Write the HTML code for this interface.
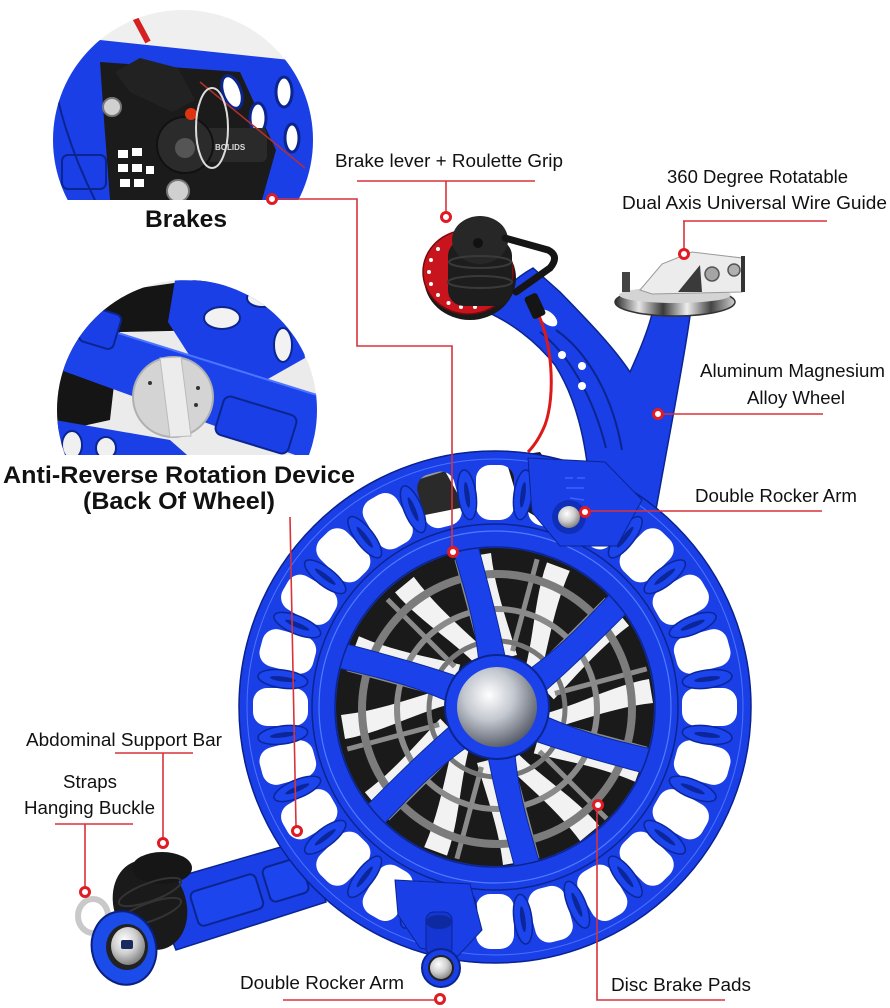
<!DOCTYPE html>
<html><head><meta charset="utf-8">
<style>
html,body{margin:0;padding:0;background:#fff;}
svg{display:block;}
text{font-family:"Liberation Sans",Arial,sans-serif;fill:#111;}
.b{font-weight:bold;}
</style></head><body>
<svg width="890" height="1008" viewBox="0 0 890 1008" xmlns="http://www.w3.org/2000/svg">
<defs>
  <clipPath id="c1"><circle cx="183" cy="140" r="130"/></clipPath>
  <clipPath id="c1b"><rect x="0" y="0" width="400" height="200"/></clipPath>
  <clipPath id="c2"><circle cx="187" cy="410" r="130"/></clipPath>
  <clipPath id="c2b"><rect x="0" y="250" width="400" height="205"/></clipPath>
  <radialGradient id="ball" cx="0.4" cy="0.35" r="0.7">
    <stop offset="0" stop-color="#ffffff"/><stop offset="0.45" stop-color="#c3c7cf"/><stop offset="1" stop-color="#4f5562"/>
  </radialGradient>
  <radialGradient id="silv" cx="0.4" cy="0.35" r="0.7">
    <stop offset="0" stop-color="#ffffff"/><stop offset="0.5" stop-color="#cfcfcf"/><stop offset="1" stop-color="#777"/>
  </radialGradient>
  <linearGradient id="disc" x1="0" y1="0" x2="1" y2="0">
    <stop offset="0" stop-color="#2a2a2a"/><stop offset="0.2" stop-color="#e6e6e6"/><stop offset="0.4" stop-color="#3a3a3a"/><stop offset="0.6" stop-color="#eeeeee"/><stop offset="0.8" stop-color="#444"/><stop offset="1" stop-color="#d0d0d0"/>
  </linearGradient>
  <rect id="hole" x="187" y="-19" width="55" height="38" rx="14"/>
  <g id="link"><ellipse cx="214" cy="0" rx="25" ry="9" fill="#1c45ee" stroke="#0b2698" stroke-width="1.5"/><ellipse cx="214" cy="0" rx="13" ry="2.5" fill="#0b2698"/></g>
  <path id="blade" d="M50,4 C85,-6 118,-24 152,-30 L156,-6 C120,-2 88,10 54,20 Z" fill="#f2f2f2"/>
  <line id="gl" x1="60" y1="0" x2="155" y2="0" stroke="#8b8b8b" stroke-width="5"/>
  <path id="spoke" d="M38,-14 C90,-13 130,-24 172,-32 L172,-6 C130,1 90,9 38,14 Z" fill="#1b42ea" stroke="#0c2a9e" stroke-width="1"/>
  <mask id="rimMask" maskUnits="userSpaceOnUse" x="-300" y="-300" width="600" height="600">
    <circle cx="0" cy="0" r="257" fill="#fff"/>
    <g fill="#000">
      <use href="#hole" transform="rotate(0)"/><use href="#hole" transform="rotate(15)"/><use href="#hole" transform="rotate(30)"/><use href="#hole" transform="rotate(45)"/>
      <use href="#hole" transform="rotate(60)"/><use href="#hole" transform="rotate(75)"/><use href="#hole" transform="rotate(90)"/><use href="#hole" transform="rotate(105)"/>
      <use href="#hole" transform="rotate(120)"/><use href="#hole" transform="rotate(135)"/><use href="#hole" transform="rotate(150)"/><use href="#hole" transform="rotate(165)"/>
      <use href="#hole" transform="rotate(180)"/><use href="#hole" transform="rotate(195)"/><use href="#hole" transform="rotate(210)"/><use href="#hole" transform="rotate(225)"/>
      <use href="#hole" transform="rotate(240)"/><use href="#hole" transform="rotate(255)"/><use href="#hole" transform="rotate(270)"/><use href="#hole" transform="rotate(285)"/>
      <use href="#hole" transform="rotate(300)"/><use href="#hole" transform="rotate(315)"/><use href="#hole" transform="rotate(330)"/><use href="#hole" transform="rotate(345)"/>
    </g>
  </mask>
</defs>

<rect width="890" height="1008" fill="#fff"/>

<!-- ============ INSET 1 : Brakes ============ -->
<g clip-path="url(#c1b)"><g clip-path="url(#c1)">
  <rect x="40" y="0" width="300" height="210" fill="#efefef"/>
  <path d="M50,200 L50,95 Q65,55 100,40 L290,60 Q322,100 316,200 Z" fill="#1a3fe6"/>
  <path d="M100,62 L240,72 L276,150 L262,200 L110,200 L104,120 Z" fill="#1b1b1b"/>
  <rect x="62" y="155" width="44" height="34" rx="6" fill="#1a3fe6" stroke="#0b2590" stroke-width="2"/>
  <path d="M58,100 Q70,150 95,200" stroke="#0b2590" stroke-width="2" fill="none"/>
  <g fill="#fff">
    <rect x="118" y="150" width="10" height="8"/><rect x="132" y="148" width="10" height="8"/>
    <rect x="118" y="164" width="10" height="8"/><rect x="132" y="164" width="10" height="8"/>
    <rect x="146" y="166" width="8" height="8"/><rect x="120" y="179" width="10" height="8"/><rect x="134" y="179" width="10" height="8"/>
  </g>
  <g fill="#fff" stroke="#0b2590" stroke-width="3">
    <ellipse cx="232" cy="92" rx="9" ry="17" transform="rotate(-20 232 92)"/>
    <ellipse cx="258" cy="118" rx="8" ry="15"/>
    <ellipse cx="284" cy="92" rx="8" ry="15"/>
    <ellipse cx="292" cy="138" rx="7" ry="14"/>
  </g>
  <path d="M115,72 L140,58 L178,68 L195,100 L172,112 L130,92 Z" fill="#222"/>
  <rect x="185" y="128" width="82" height="34" rx="6" fill="#2a2a2a"/>
  <text x="215" y="150" font-size="8" style="fill:#ddd;font-weight:bold">BOLIDS</text>
  <circle cx="185" cy="145" r="28" fill="#2b2b2b" stroke="#111" stroke-width="2"/>
  <circle cx="185" cy="148" r="10" fill="#555"/>
  <circle cx="112" cy="107" r="9" fill="#d0d0d0" stroke="#777" stroke-width="2"/>
  <circle cx="178" cy="191" r="11" fill="#d0d0d0" stroke="#777" stroke-width="2"/>
  <circle cx="191" cy="114" r="6" fill="#d31"/>
  <line x1="132" y1="12" x2="148" y2="42" stroke="#d42020" stroke-width="6"/>
  <line x1="200" y1="82" x2="305" y2="168" stroke="#b43030" stroke-width="1.5"/>
  <ellipse cx="212" cy="128" rx="16" ry="40" fill="none" stroke="#ddd" stroke-width="2"/>
</g></g>

<!-- ============ INSET 2 : Anti-reverse ============ -->
<g clip-path="url(#c2b)"><g clip-path="url(#c2)">
  <rect x="50" y="270" width="280" height="200" fill="#ebebeb"/>
  <path d="M55,300 L230,275 L215,330 L120,332 L110,420 L55,432 Z" fill="#151515"/>
  <path d="M175,280 L262,282 L300,322 L305,358 L252,388 L200,372 L168,322 Z" fill="#1a3fe6"/>
  <g fill="#f2f2f2" stroke="#0b2590" stroke-width="2">
    <ellipse cx="222" cy="318" rx="18" ry="11"/>
    <ellipse cx="262" cy="298" rx="15" ry="9"/>
    <ellipse cx="283" cy="345" rx="9" ry="17"/>
  </g>
  <path d="M70,318 L320,396 L320,464 L55,368 Z" fill="#1c43ea"/>
  <path d="M70,318 L320,396" stroke="#4c74ff" stroke-width="2"/>
  <rect x="82" y="310" width="36" height="36" rx="6" fill="#1a3fe6" stroke="#0b2590" stroke-width="2" transform="rotate(17 100 328)"/>
  <rect x="218" y="405" width="76" height="40" rx="7" fill="#1a3fe6" stroke="#0b2590" stroke-width="2" transform="rotate(17 256 425)"/>
  <path d="M55,420 L170,440 L195,462 L55,462 Z" fill="#1a3fe6"/>
  <ellipse cx="72" cy="445" rx="10" ry="14" fill="#f0f0f0" stroke="#0b2590" stroke-width="2"/>
  <ellipse cx="106" cy="448" rx="10" ry="11" fill="#f0f0f0" stroke="#0b2590" stroke-width="2"/>
  <circle cx="173" cy="397" r="40" fill="#d4d4d4" stroke="#b0b0b0" stroke-width="2"/>
  <path d="M160,358 L181,357 L191,436 L170,437 Z" fill="#ececec" stroke="#bbb"/>
  <circle cx="150" cy="383" r="2" fill="#333"/><circle cx="198" cy="388" r="2" fill="#333"/><circle cx="196" cy="405" r="2" fill="#333"/>
</g></g>

<!-- ============ MAIN REEL ============ -->
<!-- bottom-left handle bar (behind wheel) -->
<path d="M150,885 L305,840 L326,902 L176,950 Z" fill="#1a3fe6" stroke="#0b2590" stroke-width="1.5"/>
<g transform="rotate(-17 240 895)">
  <rect x="192" y="878" width="68" height="36" rx="6" fill="#1c45ee" stroke="#0b2590" stroke-width="2"/>
  <rect x="268" y="876" width="40" height="36" rx="6" fill="#1c45ee" stroke="#0b2590" stroke-width="2"/>
</g>

<!-- upper arm (behind wheel) -->
<path d="M487,312 C500,292 515,278 533,268 L560,292 C585,318 612,345 630,372 C640,350 648,330 652,314 L690,316 C684,360 672,420 655,515 L590,490 C586,440 576,398 555,365 C535,340 510,322 487,312 Z" fill="#1a3fe6" stroke="#0b2590" stroke-width="1.5"/>
<path d="M540,332 C566,352 592,392 606,448" stroke="#0b2590" stroke-width="2" fill="none"/>
<path d="M556,330 C585,350 612,392 622,450" stroke="#0b2590" stroke-width="2" fill="none"/>
<ellipse cx="548" cy="318" rx="11" ry="6" transform="rotate(40 548 318)" fill="#fff"/>
<circle cx="562" cy="355" r="4" fill="#fff"/><circle cx="582" cy="366" r="4" fill="#fff"/><circle cx="582" cy="386" r="4" fill="#fff"/>

<!-- red cable -->
<path d="M537,312 C552,340 556,395 545,425 C540,437 535,445 528,452" stroke="#dd1a1a" stroke-width="3" fill="none"/>
<rect x="528" y="294" width="14" height="24" rx="3" fill="#151515" transform="rotate(-25 535 306)"/>

<!-- wire guide -->
<rect x="660" y="298" width="24" height="24" fill="#1a3fe6"/>
<ellipse cx="675" cy="302" rx="60" ry="14" fill="url(#disc)" stroke="#333" stroke-width="1.5"/>
<ellipse cx="675" cy="295" rx="56" ry="8" fill="#d4d4d4"/>
<path d="M640,290 L662,264 L692,252 L742,258 L742,292 L652,294 Z" fill="#ececec" stroke="#9a9a9a" stroke-width="1"/>
<path d="M678,292 L700,265 L702,292 Z" fill="#3a3a3a"/>
<circle cx="712" cy="274" r="7" fill="#a5a5a5" stroke="#555" stroke-width="1.5"/>
<circle cx="734" cy="270" r="6" fill="#b0b0b0" stroke="#555" stroke-width="1.5"/>
<rect x="741" y="256" width="4" height="36" fill="#333"/>
<rect x="622" y="272" width="8" height="20" fill="#444"/>

<!-- brake grip -->
<ellipse cx="470" cy="278" rx="46" ry="42" fill="#1a1a1a"/>
<ellipse cx="468" cy="272" rx="45" ry="42" fill="#c8141c" stroke="#7a0a0a" stroke-width="1.5"/>
<g fill="#fff">
  <circle cx="461" cy="307" r="2"/><circle cx="448.5" cy="303" r="2"/><circle cx="438" cy="295" r="2"/>
  <circle cx="431" cy="284" r="2"/><circle cx="429" cy="272" r="2"/><circle cx="431" cy="260" r="2"/>
  <circle cx="438" cy="249" r="2"/><circle cx="475" cy="307" r="2"/><circle cx="487" cy="303" r="2"/>
</g>
<rect x="448" y="240" width="64" height="66" rx="16" fill="#1d1d1d"/>
<ellipse cx="480" cy="240" rx="28" ry="24" fill="#272727"/>
<ellipse cx="480" cy="262" rx="31" ry="6" fill="none" stroke="#3a3a3a" stroke-width="2"/>
<ellipse cx="480" cy="282" rx="32" ry="6" fill="none" stroke="#3a3a3a" stroke-width="2"/>
<circle cx="478" cy="243" r="5" fill="#111"/>
<path d="M505,238 L548,250 Q560,256 550,268 L516,292" stroke="#151515" stroke-width="7" fill="none" stroke-linejoin="round" stroke-linecap="round"/>

<!-- ======= wheel ======= -->
<g transform="translate(495,707)">
  <!-- things seen through holes -->
  <path d="M10,-250 L45,-255 L65,-225 L50,-185 L25,-200 Z" fill="#1a1a1a"/>
  <path d="M-95,-235 L-55,-245 L-30,-200 L-80,-190 Z" fill="#2a2a2a"/>
  <line x1="-120" y1="-215" x2="-40" y2="-240" stroke="#999" stroke-width="2"/>
  <!-- rim annulus with holes -->
  <circle cx="0" cy="0" r="219" fill="none" stroke="#1a3fe6" stroke-width="75" mask="url(#rimMask)"/>
  <circle cx="0" cy="0" r="256" fill="none" stroke="#0a2290" stroke-width="1.5"/>
  <circle cx="0" cy="0" r="248" fill="none" stroke="#4a73ff" stroke-width="1"/>
  <g>
    <use href="#link" transform="rotate(7.5)"/><use href="#link" transform="rotate(22.5)"/><use href="#link" transform="rotate(37.5)"/><use href="#link" transform="rotate(52.5)"/>
    <use href="#link" transform="rotate(67.5)"/><use href="#link" transform="rotate(82.5)"/><use href="#link" transform="rotate(97.5)"/><use href="#link" transform="rotate(112.5)"/>
    <use href="#link" transform="rotate(127.5)"/><use href="#link" transform="rotate(142.5)"/><use href="#link" transform="rotate(157.5)"/><use href="#link" transform="rotate(172.5)"/>
    <use href="#link" transform="rotate(187.5)"/><use href="#link" transform="rotate(202.5)"/><use href="#link" transform="rotate(217.5)"/><use href="#link" transform="rotate(232.5)"/>
    <use href="#link" transform="rotate(247.5)"/><use href="#link" transform="rotate(262.5)"/><use href="#link" transform="rotate(277.5)"/><use href="#link" transform="rotate(292.5)"/>
    <use href="#link" transform="rotate(307.5)"/><use href="#link" transform="rotate(322.5)"/><use href="#link" transform="rotate(337.5)"/><use href="#link" transform="rotate(352.5)"/>
  </g>
  <!-- inner rotor area -->
  <circle cx="2" cy="2" r="162" fill="#1a1a1a"/>
  <g transform="translate(2,2)">
    <use href="#blade" transform="rotate(0)"/><use href="#blade" transform="rotate(30)"/><use href="#blade" transform="rotate(60)"/><use href="#blade" transform="rotate(90)"/>
    <use href="#blade" transform="rotate(120)"/><use href="#blade" transform="rotate(150)"/><use href="#blade" transform="rotate(180)"/><use href="#blade" transform="rotate(210)"/>
    <use href="#blade" transform="rotate(240)"/><use href="#blade" transform="rotate(270)"/><use href="#blade" transform="rotate(300)"/><use href="#blade" transform="rotate(330)"/>
    <use href="#gl" transform="rotate(15)"/><use href="#gl" transform="rotate(45)"/><use href="#gl" transform="rotate(75)"/><use href="#gl" transform="rotate(105)"/>
    <use href="#gl" transform="rotate(135)"/><use href="#gl" transform="rotate(165)"/><use href="#gl" transform="rotate(195)"/><use href="#gl" transform="rotate(225)"/>
    <use href="#gl" transform="rotate(255)"/><use href="#gl" transform="rotate(285)"/><use href="#gl" transform="rotate(315)"/><use href="#gl" transform="rotate(345)"/>
    <circle r="135" fill="none" stroke="#7c7c7c" stroke-width="8"/>
    <circle r="100" fill="none" stroke="#8a8a8a" stroke-width="6"/>
    <circle r="68" fill="none" stroke="#777" stroke-width="5"/>
    <!-- spokes -->
    <use href="#spoke" transform="rotate(-95)"/><use href="#spoke" transform="rotate(-35)"/><use href="#spoke" transform="rotate(25)"/>
    <use href="#spoke" transform="rotate(85)"/><use href="#spoke" transform="rotate(145)"/><use href="#spoke" transform="rotate(205)"/>
  </g>
  <!-- inner ring -->
  <circle cx="0" cy="0" r="171" fill="none" stroke="#1a3fe6" stroke-width="24"/>
  <circle cx="0" cy="0" r="160" fill="none" stroke="#0b2590" stroke-width="1.5"/>
  <circle cx="0" cy="0" r="176" fill="none" stroke="#4f7bff" stroke-width="1.2"/>
  <circle cx="0" cy="0" r="183" fill="none" stroke="#0b2590" stroke-width="1.5"/>
  <!-- hub -->
  <circle cx="2" cy="0" r="52" fill="#1b42ea" stroke="#0a2590" stroke-width="2"/>
  <circle cx="2" cy="0" r="40" fill="url(#ball)"/>
</g>

<!-- top-right bump + rocker -->
<path d="M528,458 L605,462 L642,500 L617,546 L560,546 L532,512 Z" fill="#1a3fe6" stroke="#0b2590" stroke-width="1"/>
<g stroke="#3a63ff" stroke-width="1.5" fill="none">
  <path d="M565,478 l8,0 m4,0 l8,0 M566,488 l18,0 M570,498 l14,2"/>
</g>
<circle cx="569" cy="517" r="17" fill="#0f2fb8"/>
<circle cx="569" cy="517" r="11" fill="url(#silv)"/>

<!-- bottom bump + rocker knob -->
<path d="M395,880 L470,884 L482,930 L458,956 L420,948 L398,915 Z" fill="#1a3fe6" stroke="#0b2590" stroke-width="1"/>
<rect x="426" y="912" width="26" height="44" rx="8" fill="#1536d2" stroke="#0b2590" stroke-width="1"/>
<ellipse cx="439" cy="922" rx="13" ry="7" fill="#0d2aa0"/>
<circle cx="441" cy="968" r="19" fill="#1a3fe6" stroke="#0b2590" stroke-width="2"/>
<circle cx="441" cy="968" r="12" fill="url(#silv)" stroke="#222" stroke-width="2"/>

<!-- handle knob -->
<ellipse cx="150" cy="905" rx="36" ry="46" transform="rotate(-20 150 905)" fill="#1a1a1a"/>
<ellipse cx="162" cy="868" rx="30" ry="16" fill="#161616"/>
<ellipse cx="150" cy="892" rx="33" ry="9" fill="none" stroke="#333" stroke-width="2" transform="rotate(-20 150 892)"/>
<ellipse cx="150" cy="912" rx="33" ry="9" fill="none" stroke="#333" stroke-width="2" transform="rotate(-20 150 912)"/>
<ellipse cx="93" cy="916" rx="15" ry="17" fill="none" stroke="#c9c9c9" stroke-width="6"/>
<ellipse cx="124" cy="948" rx="32" ry="37" transform="rotate(-15 124 948)" fill="#1b4be8" stroke="#0a2080" stroke-width="2"/>
<ellipse cx="127" cy="947" rx="21" ry="23" fill="#222"/>
<ellipse cx="128" cy="946" rx="17" ry="19" fill="url(#silv)"/>
<rect x="121" y="940" width="12" height="9" rx="2" fill="#1a2a60"/>

<!-- ============ CONNECTORS ============ -->
<g stroke="#d8323a" stroke-width="1.6" fill="none">
  <polyline points="272,199 357,199 357,346 452,346 452,547"/>
  <line x1="290" y1="517" x2="296" y2="826"/>
  <line x1="357" y1="181" x2="535" y2="181"/><line x1="446" y1="181" x2="446" y2="212"/>
  <line x1="683" y1="221" x2="827" y2="221"/><line x1="684" y1="221" x2="684" y2="249"/>
  <line x1="662" y1="414" x2="823" y2="414"/>
  <line x1="589" y1="511" x2="822" y2="511"/>
  <line x1="115" y1="753" x2="193" y2="753"/><line x1="163" y1="753" x2="163" y2="838"/>
  <line x1="55" y1="824" x2="133" y2="824"/><line x1="85" y1="824" x2="85" y2="887"/>
  <line x1="283" y1="1000" x2="436" y2="1000"/>
  <polyline points="597,810 597,1000 725,1000"/>
</g>
<g fill="#fff" stroke="#e01b24" stroke-width="3">
  <circle cx="272" cy="199" r="4.5"/><circle cx="453" cy="552" r="4.5"/><circle cx="297" cy="831" r="4.5"/>
  <circle cx="446" cy="217" r="4.5"/><circle cx="684" cy="254" r="4.5"/><circle cx="658" cy="414" r="4.5"/>
  <circle cx="585" cy="512" r="4.5"/><circle cx="163" cy="843" r="4.5"/><circle cx="85" cy="892" r="4.5"/>
  <circle cx="440" cy="999" r="4.5"/><circle cx="598" cy="805" r="4.5"/>
</g>

<!-- ============ TEXT ============ -->
<text class="b" x="145" y="227" font-size="24" textLength="82" lengthAdjust="spacingAndGlyphs">Brakes</text>
<text class="b" x="3" y="483" font-size="24" textLength="352" lengthAdjust="spacingAndGlyphs">Anti-Reverse Rotation Device</text>
<text class="b" x="83" y="509" font-size="24" textLength="192" lengthAdjust="spacingAndGlyphs">(Back Of Wheel)</text>

<text x="335" y="167" font-size="18" textLength="228" lengthAdjust="spacingAndGlyphs">Brake lever + Roulette Grip</text>
<text x="667" y="183" font-size="18" textLength="181" lengthAdjust="spacingAndGlyphs">360 Degree Rotatable</text>
<text x="622" y="209" font-size="18" textLength="265" lengthAdjust="spacingAndGlyphs">Dual Axis Universal Wire Guide</text>
<text x="700" y="377" font-size="18" textLength="185" lengthAdjust="spacingAndGlyphs">Aluminum Magnesium</text>
<text x="747" y="404" font-size="18" textLength="98" lengthAdjust="spacingAndGlyphs">Alloy Wheel</text>
<text x="695" y="502" font-size="18" textLength="162" lengthAdjust="spacingAndGlyphs">Double Rocker Arm</text>
<text x="26" y="746" font-size="18" textLength="196" lengthAdjust="spacingAndGlyphs">Abdominal Support Bar</text>
<text x="63" y="788" font-size="18" textLength="54" lengthAdjust="spacingAndGlyphs">Straps</text>
<text x="24" y="814" font-size="18" textLength="131" lengthAdjust="spacingAndGlyphs">Hanging Buckle</text>
<text x="240" y="989" font-size="18" textLength="164" lengthAdjust="spacingAndGlyphs">Double Rocker Arm</text>
<text x="611" y="991" font-size="18" textLength="140" lengthAdjust="spacingAndGlyphs">Disc Brake Pads</text>
</svg>
</body></html>
